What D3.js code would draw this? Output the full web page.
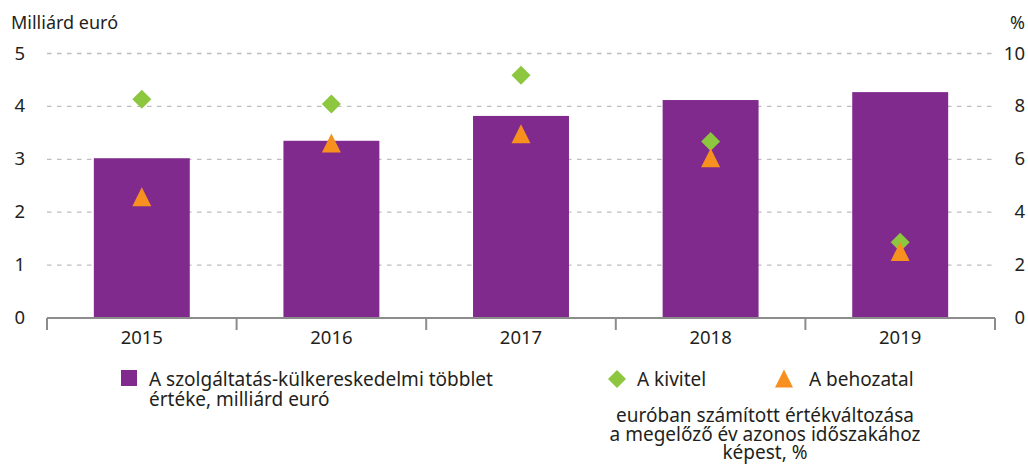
<!DOCTYPE html>
<html><head><meta charset="utf-8">
<script src="https://cdn.jsdelivr.net/npm/d3@7"></script>
<style>body{margin:0;background:#fff}svg text{font-family:"Noto Sans",sans-serif;fill:#231f20}</style>
</head><body><svg id="c" width="1028" height="464"></svg>
<script>
const years = ["2015","2016","2017","2018","2019"];
const surplus = [3.02, 3.35, 3.82, 4.12, 4.27];
const exportGrowth = [8.27, 8.09, 9.18, 6.67, 2.86];
const importGrowth = [4.57, 6.6, 6.95, 6.04, 2.5];
const leftTicks = [0,1,2,3,4,5];
const rightTicks = [0,2,4,6,8,10];

const svg = d3.select("#c");
const x0 = 47, x1 = 995, yBase = 318, yTop = 53.5;
const x = d3.scaleBand().domain(years).range([x0, x1]).paddingInner(0.494).paddingOuter(0.247);
const band = d3.scaleBand().domain(years).range([x0, x1]);
const yL = d3.scaleLinear().domain([0,5]).range([yBase, yTop]);
const yR = d3.scaleLinear().domain([0,10]).range([yBase, yTop]);

// gridlines
svg.append("g").selectAll("line").data(leftTicks.slice(1)).join("line")
  .attr("x1", x0).attr("x2", x1).attr("y1", d=>yL(d)).attr("y2", d=>yL(d))
  .attr("stroke","#bdbdbd").attr("stroke-width",1.3).attr("stroke-dasharray","4.5,5.5");

// left labels
svg.append("g").selectAll("text").data(leftTicks).join("text")
  .attr("x", 25).attr("y", d=>yL(d)+6).attr("text-anchor","end").attr("font-size",18.5).text(d=>d);
// right labels
svg.append("g").selectAll("text").data(rightTicks).join("text")
  .attr("x", 1025).attr("y", d=>yR(d)+6).attr("text-anchor","end").attr("font-size",18.5).text(d=>d);
svg.append("text").attr("x",11).attr("y",29).attr("font-size",18).text("Milliárd euró");
svg.append("text").attr("x",1025).attr("y",29).attr("text-anchor","end").attr("font-size",18).text("%");

// bars
svg.append("g").selectAll("rect").data(years).join("rect")
  .attr("x", d=>x(d)).attr("width", x.bandwidth())
  .attr("y", (d,i)=>yL(surplus[i])).attr("height", (d,i)=>yBase - yL(surplus[i]))
  .attr("fill","#7f2a8c");

// axis
const axis = svg.append("g");
axis.append("line").attr("x1",x0).attr("x2",x1).attr("y1",yBase).attr("y2",yBase)
  .attr("stroke","#8c8c8c").attr("stroke-width",2);
const bounds = years.map(d=>band(d)).concat([x1]);
axis.selectAll("line.t").data(bounds).join("line").attr("class","t")
  .attr("x1",d=>d).attr("x2",d=>d).attr("y1",yBase).attr("y2",yBase+12)
  .attr("stroke","#8c8c8c").attr("stroke-width",2);
axis.selectAll("text").data(years).join("text")
  .attr("x", d=>band(d)+band.bandwidth()/2).attr("y", 344).attr("text-anchor","middle")
  .attr("font-size",18.5).text(d=>d);

const diamond = s => `M0,${-s}L${s},0L0,${s}L${-s},0Z`;
const tri = s => `M0,${-s*1.05}L${s},${s*0.95}L${-s},${s*0.95}Z`;
const cx = d=>band(d)+band.bandwidth()/2;

svg.append("g").selectAll("path").data(years).join("path")
  .attr("d", diamond(9.5)).attr("fill","#8dc63f")
  .attr("transform",(d,i)=>`translate(${cx(d)},${yR(exportGrowth[i])})`);
svg.append("g").selectAll("path").data(years).join("path")
  .attr("d", tri(9.5)).attr("fill","#f7901e")
  .attr("transform",(d,i)=>`translate(${cx(d)},${yR(importGrowth[i])})`);

// legend
const lg = svg.append("g");
lg.append("rect").attr("x",121).attr("y",370).attr("width",16).attr("height",16).attr("fill","#7f2a8c");
lg.append("text").attr("x",149).attr("y",386).attr("font-size",19).text("A szolgáltatás-külkereskedelmi többlet");
lg.append("text").attr("x",149).attr("y",406).attr("font-size",19).text("értéke, milliárd euró");
lg.append("path").attr("d",diamond(9)).attr("fill","#8dc63f").attr("transform","translate(617,379)");
lg.append("text").attr("x",637).attr("y",386).attr("font-size",19).text("A kivitel");
lg.append("path").attr("d",tri(9)).attr("fill","#f7901e").attr("transform","translate(784,379)");
lg.append("text").attr("x",809).attr("y",386).attr("font-size",19).text("A behozatal");
["euróban számított értékváltozása","a megelőző év azonos időszakához","képest, %"].forEach((t,i)=>{
  lg.append("text").attr("x",765).attr("y",422+i*18.5).attr("text-anchor","middle").attr("font-size",19).text(t);
});
</script></body></html>
